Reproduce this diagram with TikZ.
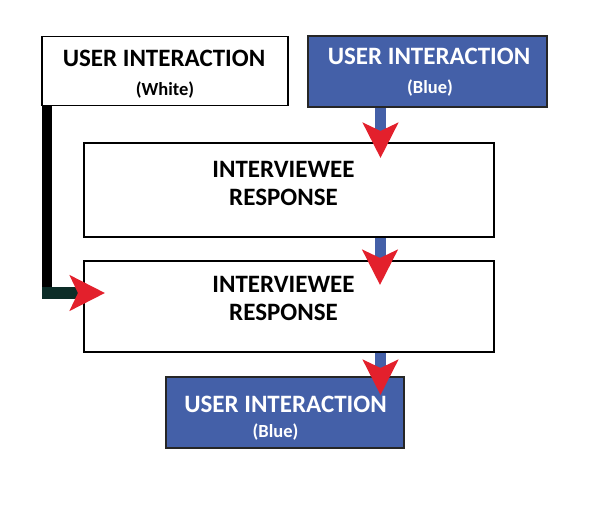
\documentclass[tikz,border=0pt]{standalone}
\usepackage{fontspec}
\setmainfont{Carlito}
\usepackage{xcolor}
\usepackage{tikz}
\usetikzlibrary{arrows.meta}
\usetikzlibrary{calc}
\definecolor{boxblue}{HTML}{4460A8}
\definecolor{tipred}{HTML}{E3202C}
\definecolor{darkbar}{HTML}{0C2D28}

\tikzset{
  whitebox/.style={draw=black, line width=1.6pt, fill=white, inner sep=0pt},
  bluebox/.style={draw=black!85, line width=1.6pt, fill=boxblue, inner sep=0pt},
  title/.style={anchor=base, inner sep=0pt, font=\fontsize{25}{28}\selectfont\bfseries},
  subtitle/.style={anchor=base, inner sep=0pt, font=\fontsize{18.5}{21}\selectfont\bfseries},
  redtip/.tip={Stealth[length=35pt, width=35pt, inset=8pt, color=tipred]},
  stem/.style={line width=11pt, boxblue, -redtip},
}

\begin{document}
\begin{tikzpicture}[x=1pt, y=-1pt]
        % Fond
        \useasboundingbox[fill=white] (0,0) rectangle (610,518);

        % Boites
        \node[whitebox, minimum width=246pt, minimum height=69pt] (uiw) at (165,71) {};
        \node[bluebox, minimum width=239pt, minimum height=71pt] (uib) at (427.5,71.5) {};
        \node[whitebox, minimum width=410pt, minimum height=94pt] (ira) at (289,190) {};
        \node[whitebox, minimum width=410pt, minimum height=91pt] (irb) at (289,306.5) {};
        \node[bluebox, minimum width=238pt, minimum height=71pt] (uie) at (285,412.5) {};

        % Textes
        \node[title] (uiwt) at (164,67) {USER INTERACTION};
        \node[subtitle] (uiws) at (165,96) {(White)};
        \node[title, white] (uibt) at (429,65) {USER INTERACTION};
        \node[subtitle, white] (uibs) at (430,94) {(Blue)};
        \node[title] (irat) at (283.5,178) {INTERVIEWEE};
        \node[title] (iras) at (283.5,206) {RESPONSE};
        \node[title] (irbt) at (283.5,293) {INTERVIEWEE};
        \node[title] (irbs) at (283.5,321) {RESPONSE};
        \node[title, white] (uiet) at (285.5,412) {USER INTERACTION};
        \node[subtitle, white] (uies) at (275.5,437) {(Blue)};

        % Pointes des fleches
        \coordinate (tipa) at (380.5,158);
        \coordinate (tipb) at (380,285);
        \coordinate (tipc) at (380.5,395);
        \coordinate (corner) at (47,293);
        \coordinate (tipd) at (105,293);

        % Fleches bleues
        \draw[stem] (uib.south -| tipa) -- (tipa);
        \draw[stem] (ira.south -| tipb) -- (tipb);
        \draw[stem] (irb.south -| tipc) -- (tipc);

        % Fleche de gauche
        \draw[line width=10pt, black] (uiw.south -| corner) -- ($(corner)+(0,5)$);
        \draw[line width=12pt, darkbar, -redtip] ($(corner)+(-5,0)$) -- (tipd);
    \end{tikzpicture}
\end{document}
